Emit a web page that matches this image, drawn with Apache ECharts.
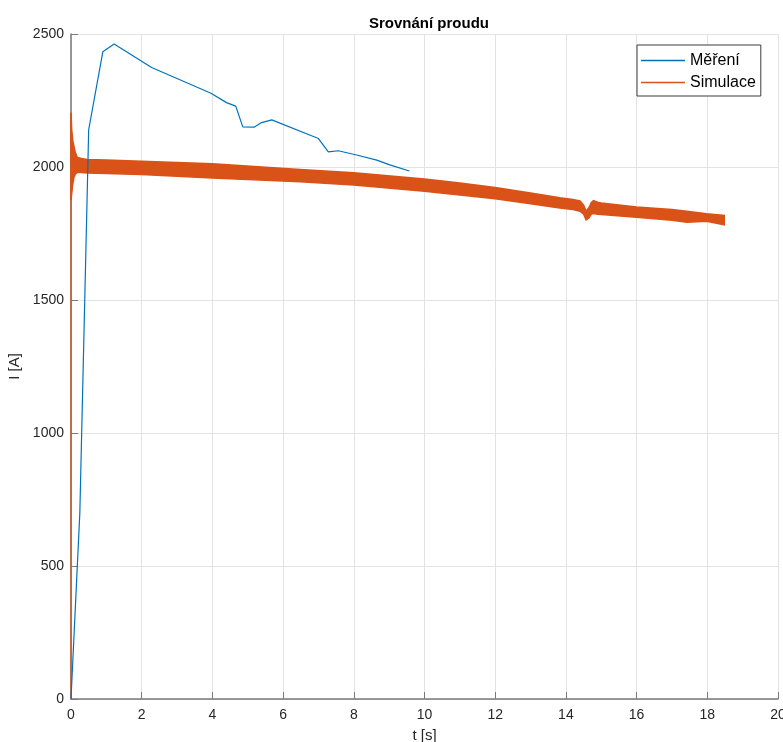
<!DOCTYPE html>
<html>
<head>
<meta charset="utf-8">
<script src="https://cdn.jsdelivr.net/npm/echarts@6/dist/echarts.min.js"></script>
<style>
html,body{margin:0;padding:0;background:#fff;}
#chart{width:783px;height:742px;}
</style>
</head>
<body>
<div id="chart"></div>
<script>
// Měření (measured current)
const measT = [0, 0.25, 0.5, 0.9, 1.22, 2.28, 3.96, 4.4, 4.66, 4.86, 5.19, 5.39, 5.68, 7.0, 7.28, 7.56, 8.08, 8.65, 9.02, 9.57];
const measI = [0, 700, 2140, 2433, 2462, 2374, 2277, 2242, 2229, 2151, 2150, 2167, 2177, 2107, 2057, 2061, 2045, 2026, 2008, 1985];

// Simulace (simulated current): start rise and envelope of the oscillating band
const simStartT = [0, 0];
const simStartI = [0, 2204];
const simT  = [0, 0.02, 0.05, 0.085, 0.12, 0.18, 0.3, 0.45, 1, 2, 4, 6.48, 8, 10, 11, 12, 13, 13.83, 14.2, 14.4, 14.5, 14.57, 14.65, 14.72, 14.78, 14.9, 15, 16, 17, 17.42, 17.98, 18.48];
const simHi = [2204, 2140, 2100, 2076, 2055, 2036, 2032, 2028, 2026, 2022, 2012, 1991, 1978, 1955, 1940, 1923, 1902, 1884, 1878, 1872, 1857, 1834, 1847, 1867, 1874, 1868, 1865, 1850, 1840, 1834, 1824, 1818];
const simLo = [1876, 1900, 1935, 1962, 1973, 1980, 1979, 1977, 1976, 1972, 1959, 1945, 1932, 1909, 1895, 1881, 1862, 1846, 1840, 1834, 1823, 1801, 1808, 1823, 1825, 1822, 1821, 1811, 1800, 1792, 1796, 1783];

const FONT = '"Liberation Sans", Arial, Helvetica, sans-serif';
const AXIS = '#7a7a7a';
const TXT = '#262626';
const BLUE = '#0072BD';
const ORANGE = '#D95319';

const chart = echarts.init(document.getElementById('chart'), null, {renderer: 'canvas'});
chart.setOption({
  animation: false,
  backgroundColor: '#fff',
  textStyle: {fontFamily: FONT},
  title: {
    text: 'Srovnání proudu',
    left: 424, top: 11, textAlign: 'center',
    textStyle: {fontFamily: FONT, fontSize: 15, fontWeight: 'bold', color: '#000'}
  },
  grid: {left: 71, right: 5, top: 34, bottom: 43, containLabel: false, outerBoundsMode: 'none'},
  legend: {
    data: [
      {name: 'Měření', icon: 'rect', itemStyle: {color: BLUE}},
      {name: 'Simulace', icon: 'rect', itemStyle: {color: ORANGE}}
    ],
    orient: 'vertical',
    left: 637, top: 45,
    padding: [7, 5, 5, 4],
    itemGap: 5,
    itemWidth: 44, itemHeight: 1.5,
    backgroundColor: '#fff',
    borderColor: '#3c3c3c', borderWidth: 1,
    textStyle: {fontFamily: FONT, fontSize: 16, color: '#000', lineHeight: 17}
  },
  xAxis: {
    type: 'value', min: 0, max: 20, interval: 2,
    name: 't [s]', nameLocation: 'middle', nameGap: 29,
    nameTextStyle: {fontFamily: FONT, fontSize: 15, color: TXT},
    axisLine: {show: true, onZero: false, lineStyle: {color: AXIS, width: 1.5}},
    axisTick: {show: true, inside: true, length: 7, lineStyle: {color: AXIS, width: 1}},
    axisLabel: {fontFamily: FONT, fontSize: 14, color: TXT, margin: 9, formatter: v => String(v)},
    splitLine: {show: true, lineStyle: {color: '#e3e3e3', width: 1}}
  },
  yAxis: {
    type: 'value', min: 0, max: 2500, interval: 500,
    name: 'I [A]', nameLocation: 'middle', nameGap: 43,
    nameTextStyle: {fontFamily: FONT, fontSize: 15, color: TXT},
    axisLine: {show: true, lineStyle: {color: AXIS, width: 1.5}},
    axisTick: {show: true, inside: true, length: 7, lineStyle: {color: AXIS, width: 1}},
    axisLabel: {fontFamily: FONT, fontSize: 14, color: TXT, margin: 7, formatter: v => String(v)},
    splitLine: {show: true, lineStyle: {color: '#e3e3e3', width: 1}}
  },
  series: [
    {
      name: 'SimBand',
      type: 'custom',
      z: 2,
      data: simT.map((t, i) => [t, simLo[i], simHi[i]]),
      encode: {x: 0, y: [1, 2]},
      renderItem: function (params, api) {
        if (params.dataIndex !== 0) return null;
        const pts = [];
        for (let i = 0; i < simT.length; i++) pts.push(api.coord([simT[i], simHi[i]]));
        for (let i = simT.length - 1; i >= 0; i--) pts.push(api.coord([simT[i], simLo[i]]));
        return {
          type: 'polygon',
          shape: {points: pts},
          style: {fill: ORANGE, stroke: ORANGE, lineWidth: 1.5}
        };
      },
      silent: true
    },
    {
      name: 'Simulace',
      type: 'line',
      z: 3,
      symbol: 'none',
      data: simStartT.map((t, i) => [t, simStartI[i]]),
      lineStyle: {color: ORANGE, width: 1.2},
      itemStyle: {color: ORANGE}
    },
    {
      name: 'Měření',
      type: 'line',
      z: 4,
      symbol: 'none',
      data: measT.map((t, i) => [t, measI[i]]),
      lineStyle: {color: BLUE, width: 1.2},
      itemStyle: {color: BLUE}
    }
  ]
});
</script>
</body>
</html>
